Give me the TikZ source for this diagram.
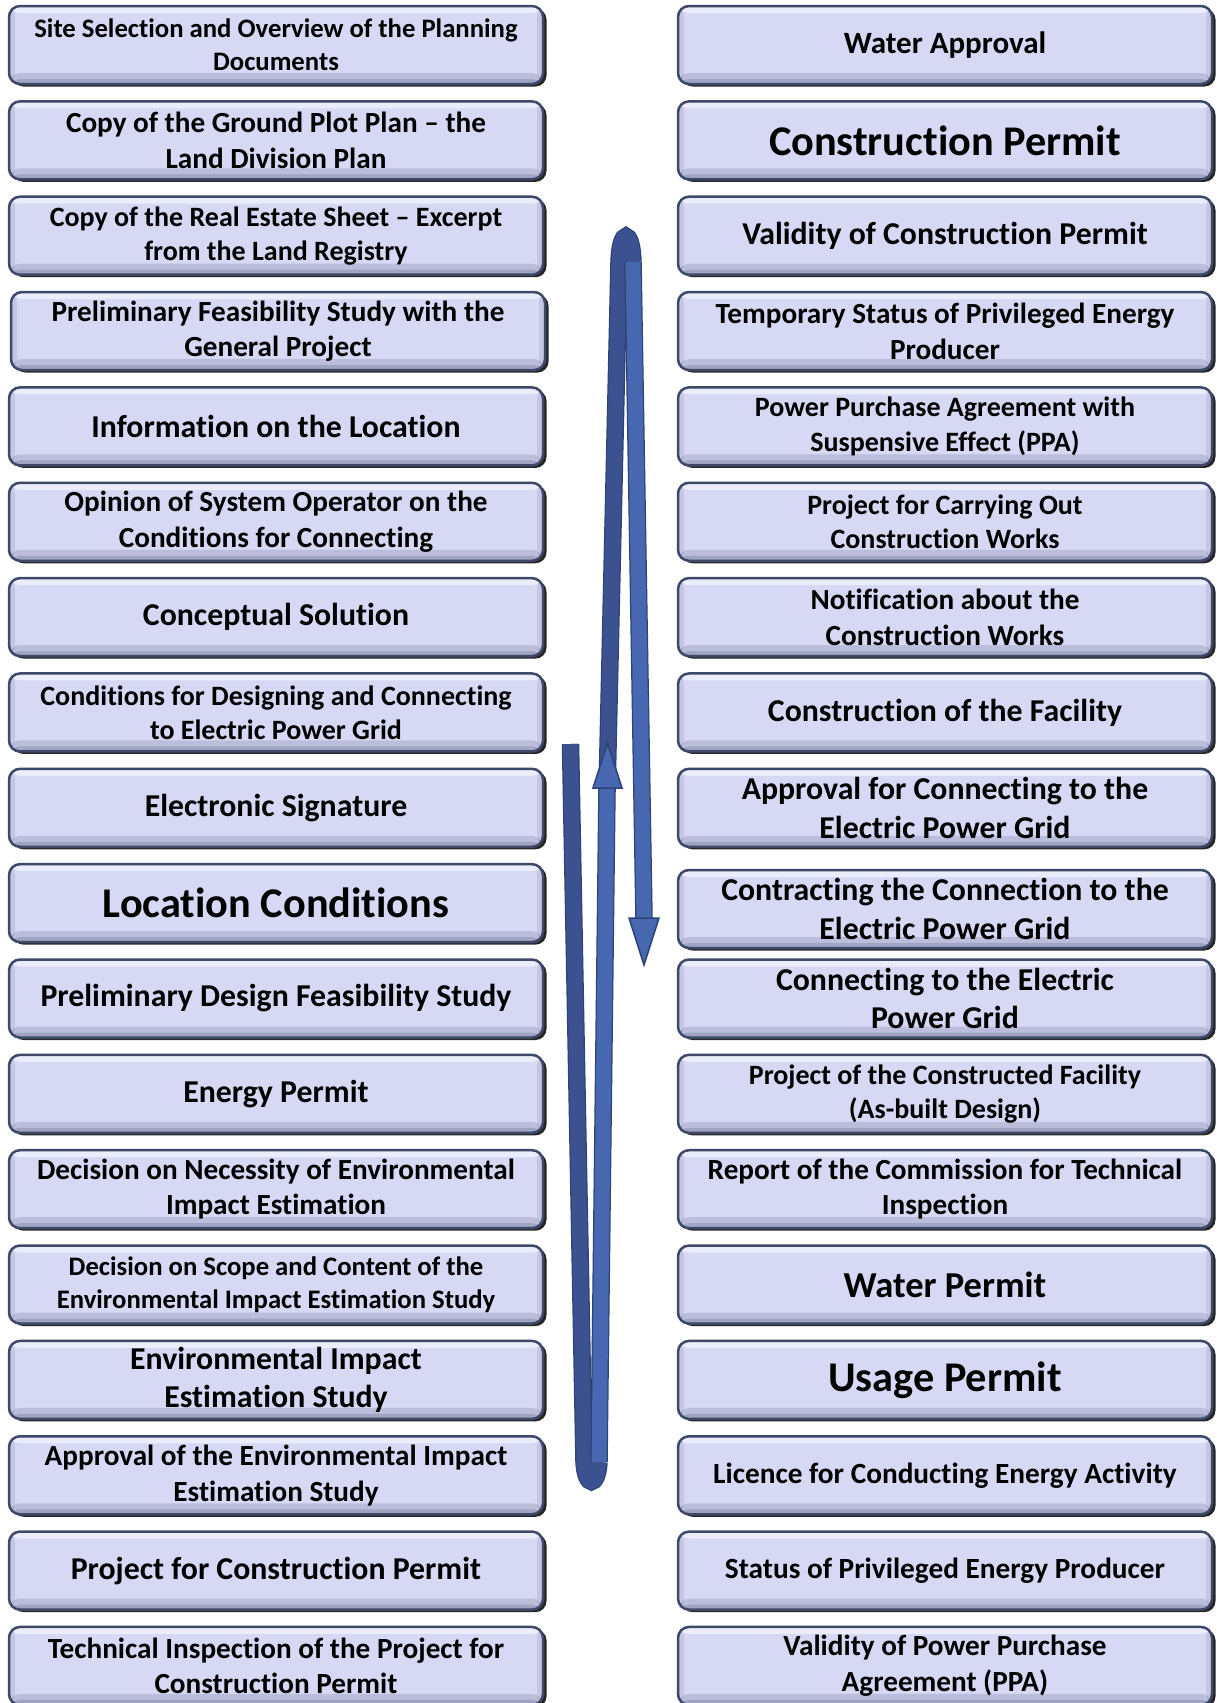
\documentclass[tikz,border=0pt]{standalone}
\usepackage{fontspec}
\setmainfont{Carlito}[Ligatures={NoCommon}]
\usetikzlibrary{shadows}
\definecolor{boxfill}{HTML}{D7D8F4}
\definecolor{boxedge}{HTML}{3E4869}
\definecolor{ribDark}{HTML}{3B5190}
\definecolor{ribLight}{HTML}{4767B0}
\definecolor{ribEdge}{HTML}{2E4375}
\newcommand\fsz[1]{\fontsize{#1}{\dimexpr #1pt*122/100\relax}\selectfont}
\begin{document}
\begin{tikzpicture}[x=1pt,y=-1pt,
  box/.style={rounded corners=11pt, draw=boxedge, line width=2.5pt, fill=boxfill,
    minimum width=534pt, minimum height=78pt, inner sep=0pt, align=center,
    drop shadow={shadow xshift=3.5pt, shadow yshift=-2.5pt, fill=black, opacity=0.85},
    path picture={
      \fill[white,opacity=0.55] ([yshift=-1pt]path picture bounding box.north west) rectangle ([yshift=-7pt]path picture bounding box.north east);
      \fill[boxedge,opacity=0.18] ([yshift=11pt]path picture bounding box.south west) rectangle (path picture bounding box.south east);
      \fill[boxedge,opacity=0.22] ([yshift=5pt]path picture bounding box.south west) rectangle (path picture bounding box.south east);
      \fill[boxedge,opacity=0.12] (path picture bounding box.south west) rectangle ([xshift=6pt]path picture bounding box.north west);
      \fill[boxedge,opacity=0.12] (path picture bounding box.south east) rectangle ([xshift=-6pt]path picture bounding box.north east);
    }},
  fs/.style={font=\bfseries\fsz{#1}},
  ribbon/.style={line width=15pt, preaction={draw=ribEdge, line width=17.5pt}},
  head/.style={draw=ribEdge, line width=1.5pt, line join=miter}
]
\fill[white] (0,0) rectangle (1217,1703);
\useasboundingbox (0,0) rectangle (1217,1703);

% left column
\node[box,fs=26.7] (l1)  at (276,45)      {Site Selection and Overview of the Planning\\Documents};
\node[box,fs=29.2] (l2)  at (276,140.35)  {Copy of the Ground Plot Plan – the\\Land Division Plan};
\node[box,fs=28]   (l3)  at (276,235.7)   {Copy of the Real Estate Sheet – Excerpt\\from the Land Registry};
\node[box,fs=29.2] (l4)  at (278,331.05)  {Preliminary Feasibility Study with the\\General Project};
\node[box,fs=31.8] (l5)  at (276,426.4)   {Information on the Location};
\node[box,fs=29.2] (l6)  at (276,521.75)  {Opinion of System Operator on the\\Conditions for Connecting};
\node[box,fs=31.8] (l7)  at (276,617.1)   {Conceptual Solution};
\node[box,fs=28]   (l8)  at (276,712.45)  {Conditions for Designing and Connecting\\to Electric Power Grid};
\node[box,fs=31.8] (l9)  at (276,807.8)   {Electronic Signature};
\node[box,fs=42.3] (l10) at (276,903.15)  {Location Conditions};
\node[box,fs=31.8] (l11) at (276,998.5)   {Preliminary Design Feasibility Study};
\node[box,fs=31.8] (l12) at (276,1093.85) {Energy Permit};
\node[box,fs=29.2] (l13) at (276,1189.2)  {Decision on Necessity of Environmental\\Impact Estimation};
\node[box,fs=26.7] (l14) at (276,1284.55) {Decision on Scope and Content of the\\Environmental Impact Estimation Study};
\node[box,fs=31.8] (l15) at (276,1379.9)  {Environmental Impact\\Estimation Study};
\node[box,fs=29.2] (l16) at (276,1475.25) {Approval of the Environmental Impact\\Estimation Study};
\node[box,fs=31.8] (l17) at (276,1570.6)  {Project for Construction Permit};
\node[box,fs=29.2] (l18) at (276,1665.95) {Technical Inspection of the Project for\\Construction Permit};

% right column
\node[box,fs=31]   (r1)  at (945,45)      {Water Approval};
\node[box,fs=42.3] (r2)  at (945,140.35)  {Construction Permit};
\node[box,fs=31.8] (r3)  at (945,235.7)   {Validity of Construction Permit};
\node[box,fs=29.2] (r4)  at (945,331.05)  {Temporary Status of Privileged Energy\\Producer};
\node[box,fs=28]   (r5)  at (945,426.4)   {Power Purchase Agreement with\\Suspensive Effect (PPA)};
\node[box,fs=28]   (r6)  at (945,521.75)  {Project for Carrying Out\\Construction Works};
\node[box,fs=29.2] (r7)  at (945,617.1)   {Notification about the\\Construction Works};
\node[box,fs=31.8] (r8)  at (945,712.45)  {Construction of the Facility};
\node[box,fs=31.8] (r9)  at (945,807.8)   {Approval for Connecting to the\\Electric Power Grid};
\node[box,fs=31.8] (r10) at (945,909)     {Contracting the Connection to the\\Electric Power Grid};
\node[box,fs=31.8] (r11) at (945,998.5)   {Connecting to the Electric\\Power Grid};
\node[box,fs=28]   (r12) at (945,1093.85) {Project of the Constructed Facility\\(As-built Design)};
\node[box,fs=29.2] (r13) at (945,1189.2)  {Report of the Commission for Technical\\Inspection};
\node[box,fs=36.5] (r14) at (945,1284.55) {Water Permit};
\node[box,fs=42.3] (r15) at (945,1379.9)  {Usage Permit};
\node[box,fs=29.3] (r16) at (945,1475.25) {Licence for Conducting Energy Activity};
\node[box,fs=29.3] (r17) at (945,1570.6)  {Status of Privileged Energy Producer};
\node[box,fs=29.2] (r18) at (945,1665.95) {Validity of Power Purchase\\Agreement (PPA)};

% looping ribbon arrow
\coordinate (upTip) at (607.5,743);
\coordinate (downTip) at (644,965);
\draw[ribbon, draw=ribDark] (607,792) -- (619,262) .. controls (620,228) and (632,228) .. (633,262);
\draw[ribbon, draw=ribLight] (633,262) -- (644,918);
\filldraw[head, fill=ribLight] (629,918) -- (659,918) -- (downTip) -- cycle;
\draw[ribbon, draw=ribDark] (570.5,744) -- (584,1462) .. controls (585.5,1488) and (597.5,1488) .. (599,1462);
\draw[ribbon, draw=ribLight] (599,1462) -- (607,789);
\filldraw[head, fill=ribLight] (593,788) -- (622,788) -- (upTip) -- cycle;
\end{tikzpicture}
\end{document}
